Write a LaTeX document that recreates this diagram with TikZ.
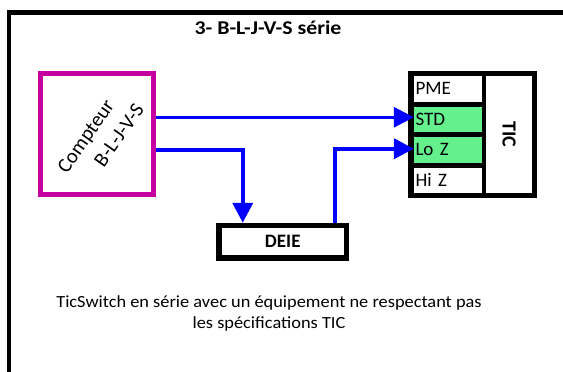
\documentclass[tikz,border=0pt]{standalone}
\usepackage{fontspec}
\setmainfont{Carlito}
\usepackage{xcolor}
\usetikzlibrary{arrows.meta}
\definecolor{compmag}{RGB}{196,0,160}
\definecolor{cellgreen}{RGB}{100,240,140}
\begin{document}
\begin{tikzpicture}[x=1pt,y=-1pt]
\tikzset{>={Triangle[width=20pt,length=20pt]}}
\tikzstyle{wire}=[draw=blue,line width=4pt,->]
\tikzstyle{cell}=[inner xsep=1.5pt,inner ysep=0pt,text width=65pt,minimum height=25.5pt,align=left,font=\fontsize{19}{22}\selectfont]
\tikzstyle{comptext}=[rotate=55,inner sep=1pt,font=\fontsize{20.5}{24}\selectfont]

\clip (0,0) rectangle (563,372);
% frame
\draw[line width=4.5pt] (9,390) -- (9,12.25) -- (580,12.25);
\node[xscale=1.12,font=\bfseries\fontsize{19.5}{23}\selectfont] (title) at (268,28) {3- B-L-J-V-S série};

% compteur
\node[draw=compmag,line width=4.5pt,minimum width=113pt,minimum height=121pt] (comp) at (97,134) {};
\node[comptext] (comp1) at (87,137) {Compteur};
\node[comptext] (comp2) at (119,135) {B-L-J-V-S};

% TIC
\node[fill=black,inner sep=0pt,minimum width=129pt,minimum height=127pt] (tic) at (472.5,134.5) {};
\node[cell,fill=white] (pme) at (448,88.75) {PME};
\node[cell,fill=cellgreen] (std) at (448,119.25) {STD};
\node[cell,fill=cellgreen] (loz) at (448,149.75) {Lo Z};
\node[cell,fill=white] (hiz) at (448,180.25) {Hi Z};
\node[fill=white,inner sep=0pt,minimum width=117pt,minimum height=46pt,rotate=-90,font=\bfseries\fontsize{20}{23}\selectfont] (ticlab) at (509,134.5) {TIC};

% DEIE
\node[draw,line width=5.5pt,minimum width=127.5pt,minimum height=32.5pt,font=\bfseries\fontsize{19}{22}\selectfont] (deie) at (282.75,241.75) {DEIE};

\draw[wire,line width=3pt] (comp.east |- std) ++(0,-2) -- ([yshift=2pt]std.west);
\draw[wire] (comp.east |- loz) -| ([xshift=-40pt]deie.north);
\draw[wire] ([xshift=52pt]deie.north) |- ([yshift=1pt]loz.west);

\node[xscale=1.08,align=center,font=\fontsize{17}{21}\selectfont] (caption) at (269,313.5) {TicSwitch en série avec un équipement ne respectant pas\\les spécifications TIC};
\end{tikzpicture}
\end{document}
